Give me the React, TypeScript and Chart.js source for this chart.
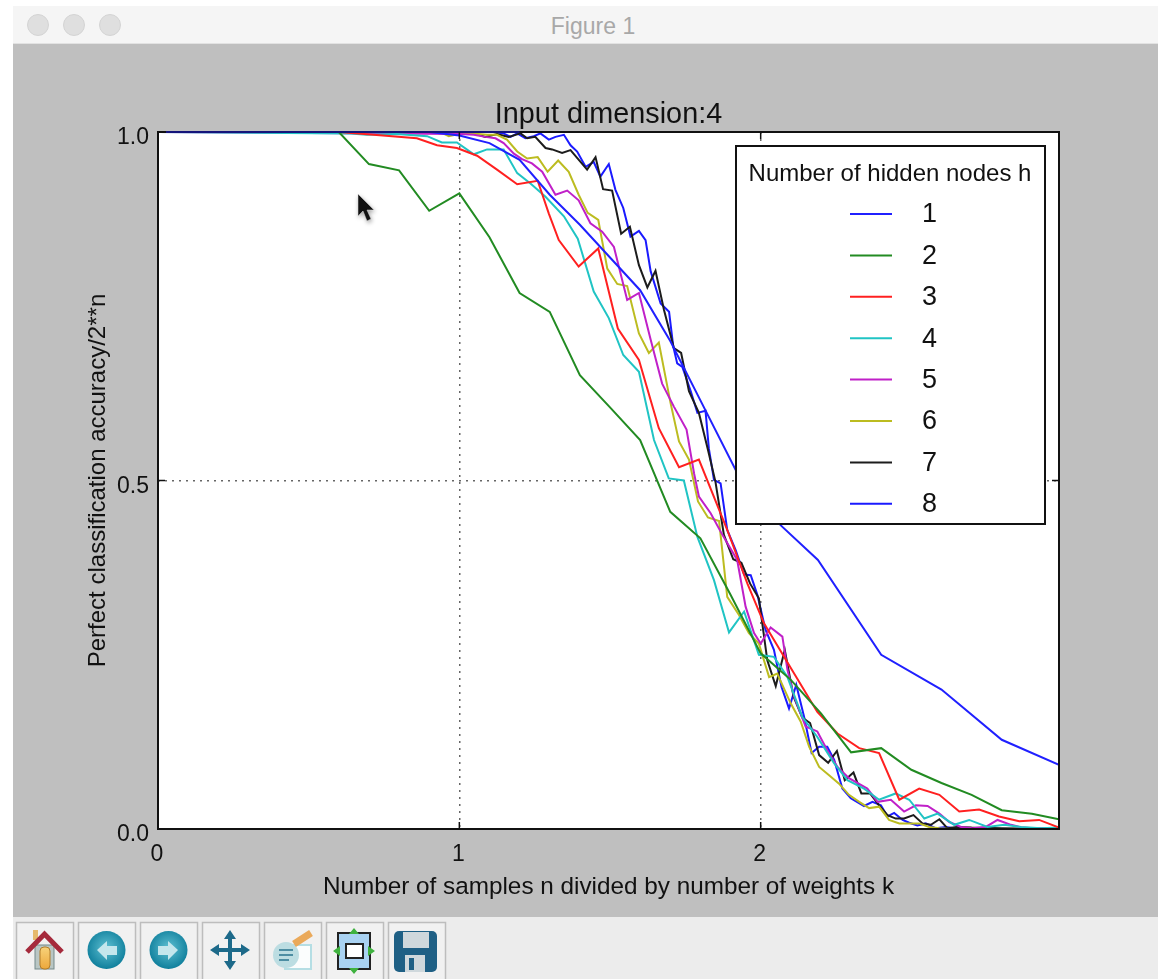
import React, { useEffect, useRef } from "react";
import { Chart, registerables } from "chart.js";

Chart.register(...registerables);

const FONT = '"Liberation Sans", Arial, sans-serif';

const xTicksShown = [0, 1, 2];
const yTicksShown = [0, 0.5, 1];
const legendTitle = "Number of hidden nodes h";
const chartTitle = "Input dimension:4";
const xLabel = "Number of samples n divided by number of weights k";
const yLabel = "Perfect classification accuracy/2**n";
const seriesNames = ["1", "2", "3", "4", "5", "6", "7", "8"];
const seriesColors = ["#2020ff", "#228b22", "#ff2020", "#20c4c4", "#c020c8", "#bcbc20", "#1c1c1c", "#1a1aff"];

const x1 = [0, 0.9, 1.0, 1.1, 1.2, 1.3, 1.4, 1.5, 1.6, 1.7, 1.8, 1.917, 2.066, 2.19, 2.4, 2.6, 2.8, 2.99];
const y1 = [1, 1, 0.995, 0.984, 0.96, 0.91, 0.867, 0.82, 0.773, 0.7, 0.615, 0.515, 0.436, 0.386, 0.25, 0.2, 0.128, 0.092];

const x2 = [0, 0.6, 0.7, 0.8, 0.9, 1.0, 1.1, 1.2, 1.3, 1.4, 1.5, 1.6, 1.7, 1.8, 1.9, 2.0, 2.1, 2.2, 2.3, 2.4, 2.5, 2.6, 2.7, 2.8, 2.9, 2.99];
const y2 = [1, 1, 0.954, 0.945, 0.887, 0.912, 0.849, 0.769, 0.742, 0.651, 0.605, 0.558, 0.455, 0.417, 0.336, 0.252, 0.214, 0.166, 0.11, 0.116, 0.085, 0.066, 0.049, 0.027, 0.022, 0.014];

const x3 = [0, 0.6, 0.715, 0.859, 0.926, 0.992, 1.059, 1.125, 1.192, 1.26, 1.297, 1.33, 1.396, 1.461, 1.526, 1.596, 1.662, 1.729, 1.795, 1.889, 1.956, 2.011, 2.111, 2.188, 2.255, 2.327, 2.393, 2.46, 2.526, 2.593, 2.659, 2.725, 2.791, 2.858, 2.924, 2.99];
const y3 = [1, 1, 0.996, 0.991, 0.981, 0.977, 0.966, 0.946, 0.925, 0.93, 0.883, 0.845, 0.807, 0.833, 0.718, 0.673, 0.575, 0.519, 0.53, 0.429, 0.352, 0.295, 0.223, 0.168, 0.137, 0.116, 0.109, 0.042, 0.058, 0.049, 0.025, 0.028, 0.018, 0.011, 0.013, 0.002];

const x4 = [0, 0.638, 0.693, 0.793, 0.893, 0.942, 0.992, 1.048, 1.092, 1.147, 1.192, 1.236, 1.286, 1.347, 1.393, 1.446, 1.496, 1.544, 1.596, 1.646, 1.695, 1.745, 1.79, 1.845, 1.895, 1.945, 1.994, 2.044, 2.089, 2.138, 2.188, 2.244, 2.288, 2.343, 2.393, 2.448, 2.493, 2.543, 2.587, 2.642, 2.692, 2.753, 2.808, 2.864, 2.93, 2.99];
const y4 = [1, 0.998, 0.996, 0.997, 0.994, 0.985, 0.985, 0.968, 0.975, 0.975, 0.941, 0.926, 0.907, 0.879, 0.847, 0.771, 0.733, 0.68, 0.656, 0.558, 0.503, 0.5, 0.419, 0.357, 0.282, 0.312, 0.25, 0.247, 0.218, 0.161, 0.132, 0.094, 0.07, 0.058, 0.042, 0.051, 0.042, 0.015, 0.022, 0.006, 0.013, 0.003, 0.006, 0.003, 0.001, 0.002];

const x5 = [0, 1.003, 1.048, 1.086, 1.12, 1.147, 1.181, 1.208, 1.241, 1.275, 1.319, 1.358, 1.396, 1.435, 1.474, 1.513, 1.557, 1.596, 1.635, 1.673, 1.712, 1.754, 1.779, 1.795, 1.834, 1.873, 1.922, 1.95, 1.978, 2.0, 2.033, 2.072, 2.089, 2.111, 2.149, 2.188, 2.221, 2.255, 2.293, 2.354, 2.388, 2.432, 2.476, 2.515, 2.554, 2.593, 2.626, 2.665, 2.703, 2.747, 2.786, 2.831, 2.869, 2.908, 2.99];
const y5 = [1, 0.997, 0.996, 0.993, 0.991, 0.984, 0.969, 0.961, 0.955, 0.943, 0.91, 0.916, 0.902, 0.869, 0.857, 0.835, 0.759, 0.769, 0.702, 0.639, 0.606, 0.573, 0.51, 0.477, 0.453, 0.422, 0.386, 0.319, 0.281, 0.266, 0.289, 0.276, 0.228, 0.19, 0.147, 0.14, 0.113, 0.089, 0.073, 0.058, 0.039, 0.042, 0.025, 0.034, 0.033, 0.022, 0.01, 0.003, 0.001, 0.003, 0.013, 0.006, 0.002, 0.001, 0.001];

const x6 = [0, 0.937, 0.965, 0.998, 1.031, 1.064, 1.092, 1.125, 1.158, 1.192, 1.225, 1.26, 1.293, 1.328, 1.363, 1.396, 1.426, 1.461, 1.491, 1.524, 1.557, 1.596, 1.629, 1.662, 1.701, 1.729, 1.762, 1.792, 1.825, 1.862, 1.889, 1.928, 1.961, 1.994, 2.028, 2.055, 2.1, 2.133, 2.161, 2.194, 2.227, 2.26, 2.293, 2.327, 2.36, 2.393, 2.426, 2.46, 2.493, 2.526, 2.559, 2.593, 2.626, 2.99];
const y6 = [1, 1, 0.994, 0.997, 0.997, 0.997, 0.996, 0.996, 0.989, 0.972, 0.962, 0.964, 0.943, 0.959, 0.943, 0.91, 0.884, 0.874, 0.804, 0.782, 0.779, 0.711, 0.683, 0.698, 0.611, 0.556, 0.53, 0.47, 0.447, 0.442, 0.333, 0.307, 0.281, 0.266, 0.218, 0.223, 0.18, 0.154, 0.118, 0.089, 0.077, 0.065, 0.049, 0.039, 0.03, 0.032, 0.013, 0.008, 0.008, 0.008, 0.003, 0.001, 0, 0];

const x7 = [0, 1.03, 1.064, 1.086, 1.125, 1.164, 1.203, 1.225, 1.252, 1.286, 1.308, 1.341, 1.369, 1.424, 1.452, 1.477, 1.507, 1.537, 1.566, 1.596, 1.624, 1.651, 1.679, 1.712, 1.736, 1.762, 1.795, 1.825, 1.85, 1.878, 1.909, 1.936, 1.965, 1.994, 2.022, 2.05, 2.08, 2.109, 2.138, 2.164, 2.194, 2.224, 2.253, 2.279, 2.308, 2.334, 2.363, 2.393, 2.421, 2.448, 2.476, 2.507, 2.537, 2.565, 2.593, 2.62, 2.65, 2.7, 2.8, 2.99];
const y7 = [1, 1, 0.996, 0.993, 0.997, 0.993, 0.998, 0.991, 0.993, 0.977, 0.975, 0.97, 0.974, 0.946, 0.964, 0.918, 0.916, 0.854, 0.864, 0.809, 0.777, 0.801, 0.745, 0.69, 0.683, 0.628, 0.597, 0.544, 0.498, 0.422, 0.387, 0.382, 0.352, 0.331, 0.242, 0.205, 0.257, 0.19, 0.16, 0.152, 0.106, 0.095, 0.112, 0.07, 0.081, 0.051, 0.051, 0.034, 0.02, 0.015, 0.015, 0.02, 0.008, 0.006, 0.014, 0.001, 0.003, 0.002, 0.001, 0];

const x8 = [0, 1.12, 1.147, 1.17, 1.192, 1.219, 1.247, 1.269, 1.297, 1.319, 1.347, 1.369, 1.391, 1.419, 1.446, 1.468, 1.496, 1.518, 1.544, 1.568, 1.596, 1.618, 1.635, 1.668, 1.696, 1.71, 1.723, 1.74, 1.768, 1.79, 1.817, 1.828, 1.845, 1.867, 1.889, 1.917, 1.945, 1.967, 1.989, 2.016, 2.044, 2.069, 2.094, 2.118, 2.144, 2.169, 2.194, 2.221, 2.244, 2.271, 2.299, 2.343, 2.371, 2.399, 2.421, 2.443, 2.471, 2.493, 2.52, 2.548, 2.581, 2.615, 2.642, 2.7, 2.99];
const y8 = [1, 1, 0.998, 0.993, 0.998, 0.991, 0.994, 0.998, 0.989, 0.993, 0.996, 0.981, 0.972, 0.95, 0.957, 0.936, 0.954, 0.917, 0.891, 0.85, 0.858, 0.845, 0.8, 0.754, 0.742, 0.692, 0.668, 0.663, 0.628, 0.597, 0.6, 0.546, 0.501, 0.496, 0.429, 0.4, 0.365, 0.364, 0.336, 0.286, 0.257, 0.204, 0.173, 0.207, 0.161, 0.109, 0.118, 0.118, 0.099, 0.058, 0.044, 0.033, 0.039, 0.034, 0.018, 0.023, 0.013, 0.009, 0.005, 0.008, 0.001, 0.003, 0.001, 0, 0];

const seriesX = [x1, x2, x3, x4, x5, x6, x7, x8];
const seriesY = [y1, y2, y3, y4, y5, y6, y7, y8];

const framePlugin = {
  id: "frame",
  afterDatasetsDraw(chart: any) {
    const { ctx, chartArea: a, scales } = chart;
    ctx.save();
    ctx.strokeStyle = "#111";
    ctx.lineWidth = 2;
    ctx.strokeRect(a.left, a.top, a.right - a.left, a.bottom - a.top);
    ctx.strokeStyle = "#14147a";
    ctx.beginPath();
    ctx.moveTo(a.left + 8, a.top);
    ctx.lineTo(scales.x.getPixelForValue(1.2), a.top);
    ctx.stroke();
    ctx.strokeStyle = "#111";
    ctx.lineWidth = 1.5;
    ctx.beginPath();
    for (const v of xTicksShown) {
      const p = scales.x.getPixelForValue(v);
      ctx.moveTo(p, a.top); ctx.lineTo(p, a.top + 7);
      ctx.moveTo(p, a.bottom); ctx.lineTo(p, a.bottom - 7);
    }
    for (const v of yTicksShown) {
      const p = scales.y.getPixelForValue(v);
      ctx.moveTo(a.left, p); ctx.lineTo(a.left + 7, p);
      ctx.moveTo(a.right, p); ctx.lineTo(a.right - 7, p);
    }
    ctx.stroke();
    ctx.restore();
  },
};

const legendBoxPlugin = {
  id: "legendBox",
  afterDraw(chart: any) {
    const { ctx, data } = chart;
    ctx.save();
    ctx.fillStyle = "#fff";
    ctx.fillRect(736, 146, 309, 378);
    ctx.strokeStyle = "#111";
    ctx.lineWidth = 2;
    ctx.strokeRect(736, 146, 309, 378);
    ctx.fillStyle = "#111";
    ctx.textBaseline = "middle";
    ctx.textAlign = "center";
    ctx.font = `24px ${FONT}`;
    ctx.fillText(legendTitle, 890, 174);
    ctx.textAlign = "left";
    data.datasets.forEach((d: any, i: number) => {
      const y = 214 + i * 41.4;
      ctx.strokeStyle = d.borderColor;
      ctx.lineWidth = 2;
      ctx.beginPath();
      ctx.moveTo(850, y);
      ctx.lineTo(892, y);
      ctx.stroke();
      ctx.fillStyle = "#111";
      ctx.font = `27px ${FONT}`;
      ctx.fillText(d.label, 922, y + 1);
    });
    ctx.restore();
  },
};

const btnX = [16, 78, 140, 202, 264, 326, 388];

function Icons() {
  return (
    <svg width={1158} height={62} style={{ position: "absolute", left: 0, top: 917, filter: "blur(0.5px)" }}>
      <defs>
        <radialGradient id="orb" cx="0.5" cy="0.45" r="0.55">
          <stop offset="0" stopColor="#5fc0d2" />
          <stop offset="1" stopColor="#0f7f9c" />
        </radialGradient>
        <linearGradient id="door" x1="0" y1="0" x2="0" y2="1">
          <stop offset="0" stopColor="#f7d27a" />
          <stop offset="1" stopColor="#eca83c" />
        </linearGradient>
      </defs>
      {btnX.map((x) => (
        <rect key={x} x={x + 0.5} y={5.500} width={57} height={60} fill="#f1f1f1" stroke="#bdbdbd" strokeWidth={1.5} />
      ))}
      <rect x={35} y={28} width={19} height={24} fill="#b9c6c4" stroke="#75898b" />
      <rect x={40} y={30} width={10} height={22} rx={4} fill="url(#door)" stroke="#b17d2b" />
      <rect x={33} y={13} width={5} height={10} fill="#e5b96b" />
      <path d="M27 35 L44.500 17 L62 35" fill="none" stroke="#a52a3c" strokeWidth={5} />
      <circle cx={106.500} cy={33} r={19} fill="url(#orb)" />
      <path d="M97 33 L107 24 L107 29 L117 29 L117 38 L107 38 L107 43 Z" fill="#c4e6ec" />
      <circle cx={168.500} cy={33} r={19} fill="url(#orb)" />
      <path d="M178 33 L168 24 L168 29 L158 29 L158 38 L168 38 L168 43 Z" fill="#c4e6ec" />
      <path d="M230 13 L236 22 L232 22 L232 31 L241 31 L241 27 L250 33 L241 39 L241 35 L232 35 L232 44 L236 44 L230 53 L224 44 L228 44 L228 35 L219 35 L219 39 L210 33 L219 27 L219 31 L228 31 L228 22 L224 22 Z" fill="#1d6a8a" />
      <rect x={285} y={28} width={26} height={24} fill="#fbfdfd" stroke="#b5dee4" strokeWidth={2} />
      <circle cx={286} cy={38} r={13} fill="#bcdde2" />
      <path d="M279 33 h14 M279 38 h14 M279 43 h10" stroke="#4d8ea3" strokeWidth={2} />
      <path d="M294 27 L311 16" stroke="#eaa95a" strokeWidth={7} />
      <rect x={338} y={16} width={32} height={36} fill="#a9d2f2" stroke="#222" strokeWidth={2} />
      <rect x={346} y={27} width={17} height={14} fill="#fff" stroke="#222" strokeWidth={2} />
      <path d="M354 11 L349 17 L359 17 Z M354 57 L349 51 L359 51 Z M333 34 L340 29 L340 39 Z M375 34 L368 29 L368 39 Z" fill="#3fb23f" />
      <rect x={394} y={14} width={43} height={41} rx={5} fill="#1f6085" />
      <rect x={403} y={15} width={26} height={16} fill="#cfd8dc" />
      <rect x={405} y={38} width={20} height={17} fill="#cfd8dc" />
      <rect x={409} y={41} width={5} height={12} fill="#1f6085" />
    </svg>
  );
}

export default function App() {
  const ref = useRef<HTMLCanvasElement | null>(null);
  useEffect(() => {
    document.body.style.margin = "0";
    const chart = new Chart(ref.current as HTMLCanvasElement, {
      type: "line",
      data: {
        datasets: seriesNames.map((name, i) => ({
          label: name,
          data: seriesX[i].map((x, j) => ({ x, y: seriesY[i][j] })),
          borderColor: seriesColors[i],
          borderWidth: 2,
          pointRadius: 0,
          tension: 0,
          fill: false,
        })),
      },
      options: {
        animation: false,
        responsive: false,
        events: [],
        layout: { padding: { left: 83.5, right: 99, top: 97.44, bottom: 77 } },
        plugins: {
          legend: { display: false },
          tooltip: { enabled: false },
          title: {
            display: true,
            text: chartTitle,
            color: "#111",
            fullSize: false,
            font: { family: FONT, size: 28.8, weight: "normal" },
            padding: { top: 0, bottom: 0 },
          },
        },
        scales: {
          x: {
            type: "linear",
            min: 0,
            max: 2.99,
            afterFit: (s: any) => { s.height = 73; },
            ticks: { stepSize: 1, includeBounds: false, color: "#111", padding: 12, labelOffset: -1, maxRotation: 0, font: { family: FONT, size: 23 }, callback: (v: any) => String(v) },
            grid: { color: "#666", drawTicks: false, lineWidth: 1.5 },
            border: { display: false, dash: [2, 5] },
            title: { display: true, text: xLabel, color: "#111", padding: 0, font: { family: FONT, size: 24.3 } },
          },
          y: {
            type: "linear",
            min: 0,
            max: 1,
            afterFit: (s: any) => { s.width = 74.5; },
            ticks: { stepSize: 0.5, color: "#111", padding: 9, labelOffset: 6, font: { family: FONT, size: 23 }, callback: (v: any) => Number(v).toFixed(1) },
            grid: { color: "#666", drawTicks: false, lineWidth: 1.5 },
            border: { display: false, dash: [2, 5] },
            title: { display: true, text: yLabel, color: "#111", padding: 0, font: { family: FONT, size: 24 } },
          },
        },
      },
      plugins: [framePlugin, legendBoxPlugin],
    } as any);
    return () => chart.destroy();
  }, []);

  return (
    <div style={{ position: "relative", width: 1158, height: 979, background: "#fff", overflow: "hidden", fontFamily: FONT }}>
      <div style={{ position: "absolute", left: 13, top: 6, width: 1145, height: 38, background: "#f5f5f5", borderBottom: "1px solid #e2e2e2", boxSizing: "border-box" }} />
      {[38, 74, 110].map((cx) => (
        <div key={cx} style={{ position: "absolute", left: cx - 11, top: 14, width: 22, height: 22, borderRadius: "50%", background: "#dfdfdf", border: "1px solid #d4d4d4", boxSizing: "border-box" }} />
      ))}
      <div style={{ position: "absolute", left: 13, top: 12, width: 1160, textAlign: "center", fontSize: 23, lineHeight: "28px", color: "#a8a8a8" }}>Figure 1</div>
      <div style={{ position: "absolute", left: 13, top: 44, width: 1145, height: 873, background: "#bfbfbf" }} />
      <div style={{ position: "absolute", left: 13, top: 917, width: 1145, height: 62, background: "#ececec" }} />
      <div style={{ position: "absolute", left: 158, top: 132, width: 901, height: 697, background: "#fff" }} />
      <Icons />
      <canvas ref={ref} width={1158} height={979} style={{ position: "absolute", left: 0, top: 0, width: 1158, height: 979, filter: "blur(0.5px)" }} />
      <svg width={30} height={40} style={{ position: "absolute", left: 352, top: 190, filter: "drop-shadow(1px 2px 2px rgba(0,0,0,0.35))" }}>
        <path d="M6 4 L6 26 L11 21 L15 31 L19 29 L15 20 L22 20 Z" fill="#111" stroke="#ddd" strokeWidth={0.5} />
      </svg>
    </div>
  );
}
